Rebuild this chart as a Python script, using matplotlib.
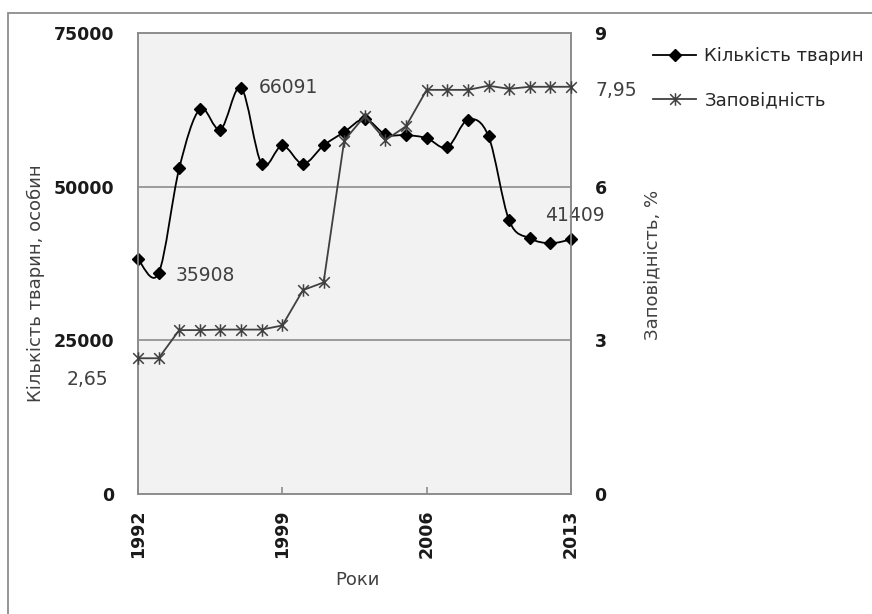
import matplotlib
matplotlib.use("Agg")
import matplotlib.pyplot as plt
from matplotlib.path import Path
from matplotlib.patches import PathPatch, Rectangle
from matplotlib.lines import Line2D

plt.rcParams['font.family'] = ['DejaVu Sans']

years = list(range(1992, 2014))
animals = [38200, 35908, 53000, 62600, 59300, 66091, 53700, 56700, 53700, 56700,
           58900, 61000, 58500, 58400, 57900, 56400, 60900, 58200, 44500, 41600,
           40800, 41409]
reserve = [2.65, 2.65, 3.20, 3.20, 3.21, 3.21, 3.21, 3.29, 3.98, 4.13,
           6.90, 7.38, 6.91, 7.18, 7.89, 7.89, 7.89, 7.97, 7.91, 7.95,
           7.95, 7.95]
xticks = [1992, 1999, 2006, 2013]
left_ticks = [0, 25000, 50000, 75000]
right_ticks = [0, 3, 6, 9]
name_animals = 'Кількість тварин'
name_reserve = 'Заповідність'

W, H = 872, 614
fig = plt.figure(figsize=(W / 100, H / 100), dpi=100)
fig.patch.set_facecolor('white')
fig.patches.append(Rectangle((8 / W, -0.1), 1.2, 1 - 13 / H + 0.1, transform=fig.transFigure,
                             fill=False, edgecolor='#8c8c8c', lw=1.3, figure=fig))

ax = fig.add_axes([138 / W, 1 - 494 / H, (571 - 138) / W, (494 - 33) / H])
ax.set_facecolor('#f2f2f2')
ax.set_xlim(1992, 2013)
ax.set_ylim(0, 75000)
ax2 = ax.twinx()
ax2.set_ylim(0, 9)

gc = '#8c8c8c'
for a in (ax, ax2):
    for s in a.spines.values():
        s.set_color(gc)
        s.set_linewidth(1.2)

tfs = 12.5
ax.set_yticks(left_ticks)
ax.set_yticklabels([str(v) for v in left_ticks], fontweight='bold', fontsize=tfs, color='#1a1a1a')
ax.tick_params(axis='y', length=0, pad=17)
for v in left_ticks[1:-1]:
    ax.axhline(v, color=gc, lw=1.2, zorder=1)

ax2.set_yticks(right_ticks)
ax2.set_yticklabels([str(v) for v in right_ticks], fontweight='bold', fontsize=tfs, color='#1a1a1a')
ax2.tick_params(axis='y', length=0, pad=17)

ax.set_xticks(xticks)
ax.set_xticklabels([str(v) for v in xticks], rotation=90, fontweight='bold', fontsize=tfs,
                   color='#1a1a1a')
ax.tick_params(axis='x', direction='in', length=5, color=gc, width=1.2, pad=11)

# smoothed line (Catmull-Rom -> cubic Bezier) through the data points
def smooth_path(xs, ys):
    pts = list(zip(xs, ys))
    n = len(pts)
    verts = [pts[0]]
    codes = [Path.MOVETO]
    for i in range(n - 1):
        p0 = pts[i - 1] if i > 0 else pts[i]
        p1 = pts[i]
        p2 = pts[i + 1]
        p3 = pts[i + 2] if i + 2 < n else pts[i + 1]
        c1 = (p1[0] + (p2[0] - p0[0]) / 6, p1[1] + (p2[1] - p0[1]) / 6)
        c2 = (p2[0] - (p3[0] - p1[0]) / 6, p2[1] - (p3[1] - p1[1]) / 6)
        verts += [c1, c2, p2]
        codes += [Path.CURVE4] * 3
    return Path(verts, codes)

ax.add_patch(PathPatch(smooth_path(years, animals), fill=False, edgecolor='black', lw=1.3,
                       zorder=3, clip_on=False))
ax.plot(years, animals, linestyle='none', marker='D', ms=5.8, color='black', zorder=4,
        clip_on=False)

ast = Path([(0, -1), (0, 1), (-0.85, -0.85), (0.85, 0.85), (-0.85, 0.85), (0.85, -0.85)],
           [Path.MOVETO, Path.LINETO, Path.MOVETO, Path.LINETO, Path.MOVETO, Path.LINETO])
ax2.plot(years, reserve, color='#404040', lw=1.3, marker=ast, ms=9, mew=1.1,
         mec='#404040', zorder=3, clip_on=False)

tc = '#404040'
fs = 13.5
ax.annotate('66091', xy=(1997, 66091), xytext=(18, 0), textcoords='offset pixels',
            ha='left', va='center', fontsize=fs, color=tc)
ax.annotate('35908', xy=(1993, 35908), xytext=(17, -2), textcoords='offset pixels',
            ha='left', va='center', fontsize=fs, color=tc)
ax.annotate('41409', xy=(2013, 41409), xytext=(4, 24), textcoords='offset pixels',
            ha='center', va='center', fontsize=fs, color=tc)
ax2.annotate('7,95', xy=(2013, 7.95), xytext=(24, -4), textcoords='offset pixels',
             ha='left', va='center', fontsize=fs, color=tc)
ax2.annotate('2,65', xy=(1992, 2.65), xytext=(-30, -21), textcoords='offset pixels',
             ha='right', va='center', fontsize=fs, color=tc)

afs = 13
fig.text(36 / W, 1 - 283 / H, 'Кількість тварин, особин', rotation=90, ha='center',
         va='center', fontsize=afs, color=tc)
fig.text(652 / W, 1 - 265 / H, 'Заповідність, %', rotation=90, ha='center',
         va='center', fontsize=afs, color=tc)
fig.text(357 / W, 1 - 580 / H, 'Роки', ha='center', va='center', fontsize=afs, color=tc)

h1 = Line2D([], [], color='black', lw=1.3, marker='D', ms=5.8)
h2 = Line2D([], [], color='#404040', lw=1.3, marker=ast, ms=9, mew=1.1)
fig.legend([h1, h2], [name_animals, name_reserve], loc='upper left',
           bbox_to_anchor=(653 / W, 1 - 47 / H), frameon=False, fontsize=13,
           handlelength=2.4, handletextpad=0.45, labelspacing=1.45, borderpad=0,
           borderaxespad=0, labelcolor='#262626')

fig.savefig('out.png', dpi=100)
